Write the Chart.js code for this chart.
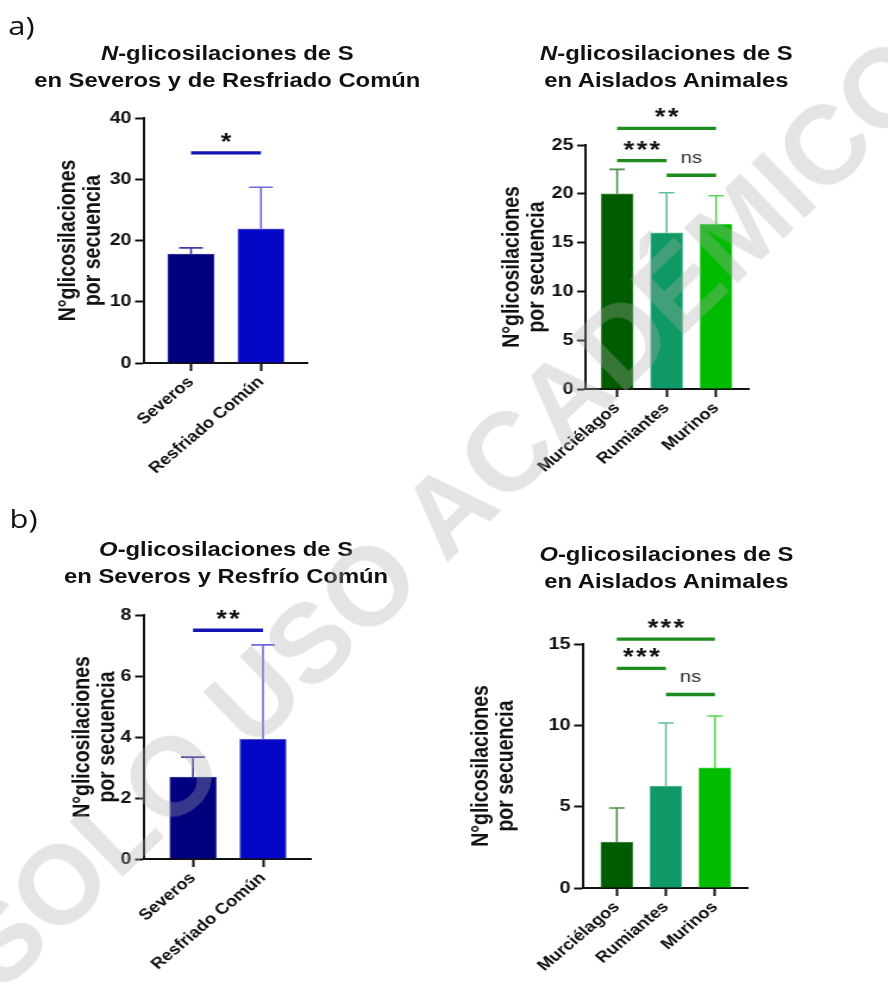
<!DOCTYPE html>
<html>
<head>
<meta charset="utf-8">
<script src="https://cdn.jsdelivr.net/npm/chart.js@4.4.1/dist/chart.umd.min.js"></script>
<style>
  html, body { margin: 0; padding: 0; background: #fff; }
  #page { position: relative; width: 888px; height: 993px; overflow: hidden; }
  /* the figure is slightly stretched sideways in the original */
  #fig { position: absolute; left: 0; top: 0; width: 746px; height: 993px; transform: scaleX(1.19); transform-origin: 0 0; }
  .tag { position: absolute; font-family: "Open Sans", sans-serif; font-size: 26px; line-height: 30px; color: #111; }
  .ttl { position: absolute; width: 400px; text-align: center; font-family: "Liberation Sans", Arial, sans-serif;
         font-weight: bold; font-size: 20px; line-height: 27px; color: #111; }
  canvas { position: absolute; }
  #wm { position: absolute; left: 445px; top: 512px; transform: translate(-50%, -50%) rotate(-44deg);
        white-space: nowrap; font-family: "Liberation Sans", Arial, sans-serif; font-weight: bold;
        font-size: 112px; color: rgba(170, 170, 170, 0.32); pointer-events: none; }
</style>
</head>
<body>
<div id="page">
  <div id="fig">
    <div class="tag" style="left:7px; top:10px;">a)</div>
    <div class="tag" style="left:8px; top:503px;">b)</div>

    <div class="ttl" style="left:-9px; top:40px;"><i>N</i>-glicosilaciones de S<br>en Severos y de Resfriado Común</div>
    <div class="ttl" style="left:360px; top:40px;"><i>N</i>-glicosilaciones de S<br>en Aislados Animales</div>
    <div class="ttl" style="left:-10px; top:536px;"><i>O</i>-glicosilaciones de S<br>en Severos y Resfrío Común</div>
    <div class="ttl" style="left:360px; top:541px;"><i>O</i>-glicosilaciones de S<br>en Aislados Animales</div>

    <canvas id="cA" width="240" height="395" style="left:40px; top:100px;"></canvas>
    <canvas id="cB" width="240" height="395" style="left:410px; top:100px;"></canvas>
    <canvas id="cC" width="240" height="400" style="left:40px; top:590px;"></canvas>
    <canvas id="cD" width="270" height="400" style="left:380px; top:590px;"></canvas>
  </div>
  <div id="wm">SOLO USO ACADÉMICO</div>
</div>

<script>
// ─── DATA ───
const gruposHum = ['Severos', 'Resfriado Común'];
const gruposAni = ['Murciélagos', 'Rumiantes', 'Murinos'];

// a) N-glicosilaciones
const nHumMedia = [17.8, 21.9];
const nHumDE = [1.0, 6.8];
const nAniMedia = [20.0, 16.0, 16.9];
const nAniDE = [2.5, 4.1, 2.9];

// b) O-glicosilaciones
const oHumMedia = [2.69, 3.93];
const oHumDE = [0.65, 3.09];
const oAniMedia = [2.83, 6.27, 7.38];
const oAniDE = [2.09, 3.87, 3.19];

// comparaciones (índices de grupo, altura en unidades del eje, texto)
const nHumSigDe = [0], nHumSigA = [1], nHumSigY = [34.3], nHumSigTxt = ['*'];
const nAniSigDe = [0, 0, 1], nAniSigA = [2, 1, 2], nAniSigY = [26.7, 23.4, 21.9], nAniSigTxt = ['**', '***', 'ns'];
const oHumSigDe = [0], oHumSigA = [1], oHumSigY = [7.5], oHumSigTxt = ['**'];
const oAniSigDe = [0, 0, 1], oAniSigA = [2, 1, 2], oAniSigY = [15.3, 13.5, 11.9], oAniSigTxt = ['***', '***', 'ns'];

const yTitulo = ['N°glicosilaciones', 'por secuencia'];

// ─── STYLE ───
const azules = ['#00007e', '#0606c6'];
const azulesErr = ['#3c3ca0', '#6b6bd8'];
const verdes = ['#005c00', '#0e9966', '#00bb00'];
const verdesErr = ['#4d8f4d', '#5fbf98', '#55d655'];
const FONT = '"Liberation Sans", Arial, Helvetica, sans-serif';

Chart.defaults.font.family = FONT;
Chart.defaults.color = '#111';
Chart.defaults.animation = false;

function panel(cfg) {
    // error bars (upper only) and significance brackets
    const extras = {
        id: 'extras',
        afterDatasetsDraw(chart) {
            const ctx = chart.ctx;
            const xs = chart.scales.x, ys = chart.scales.y;
            ctx.save();
            ctx.lineWidth = 1.6;
            cfg.means.forEach((m, i) => {
                const px = xs.getPixelForValue(i);
                const top = ys.getPixelForValue(m + cfg.sds[i]);
                ctx.strokeStyle = cfg.errColors[i];
                ctx.beginPath();
                ctx.moveTo(px, ys.getPixelForValue(m));
                ctx.lineTo(px, top);
                ctx.moveTo(px - cfg.cap, top);
                ctx.lineTo(px + cfg.cap, top);
                ctx.stroke();
            });

            ctx.textAlign = 'center';
            ctx.textBaseline = 'alphabetic';
            cfg.sigY.forEach((v, k) => {
                const x1 = xs.getPixelForValue(cfg.sigFrom[k]);
                const x2 = xs.getPixelForValue(cfg.sigTo[k]);
                const py = ys.getPixelForValue(v);
                ctx.strokeStyle = cfg.sigColor;
                ctx.lineWidth = 3.4;
                ctx.beginPath();
                ctx.moveTo(x1, py);
                ctx.lineTo(x2, py);
                ctx.stroke();
                const t = cfg.sigText[k];
                if (t === 'ns') {
                    ctx.font = '17px ' + FONT;
                    ctx.fillStyle = '#333';
                    ctx.letterSpacing = '0px';
                    ctx.fillText(t, (x1 + x2) / 2, py - 12);
                } else {
                    ctx.font = 'bold 23px ' + FONT;
                    ctx.fillStyle = '#111';
                    ctx.letterSpacing = '2px';
                    ctx.fillText(t, (x1 + x2) / 2 + 1, py - 3);
                }
            });
            ctx.restore();
        }
    };

    return new Chart(document.getElementById(cfg.id), {
        type: 'bar',
        data: {
            datasets: [{
                data: cfg.means.map((m, i) => ({ x: i, y: m })),
                backgroundColor: cfg.colors,
                borderColor: cfg.errColors,
                borderWidth: 1,
                borderSkipped: 'bottom',
                barThickness: cfg.barW
            }]
        },
        options: {
            responsive: false,
            devicePixelRatio: 1,
            layout: { padding: { top: cfg.padTop, right: cfg.padRight, left: 0, bottom: 0 } },
            plugins: { legend: { display: false }, tooltip: { enabled: false } },
            scales: {
                x: {
                    type: 'linear',
                    offset: false,
                    bounds: 'data',
                    min: cfg.xMin,
                    max: cfg.xMax,
                    afterBuildTicks: s => { s.ticks = cfg.cats.map((c, i) => ({ value: i })); },
                    afterFit: s => { s.height = cfg.xH; },
                    grid: { display: true, drawOnChartArea: false, offset: false, tickLength: 8, tickWidth: 2, tickColor: '#111' },
                    border: { display: true, color: '#111', width: 2 },
                    ticks: {
                        autoSkip: false,
                        minRotation: 45,
                        maxRotation: 45,
                        padding: 2,
                        color: '#111',
                        font: { size: 15.5, weight: 'bold' },
                        callback: v => cfg.cats[v]
                    }
                },
                y: {
                    min: 0,
                    max: cfg.yMax,
                    afterFit: s => { s.width = cfg.yW; },
                    grid: { display: true, drawOnChartArea: false, tickLength: 7.5, tickWidth: 2, tickColor: '#111' },
                    border: { display: true, color: '#111', width: 2 },
                    ticks: { stepSize: cfg.yStep, padding: 3, color: '#111', font: { size: 16.5, weight: 'bold' } },
                    title: {
                        display: true,
                        text: yTitulo,
                        color: '#111',
                        padding: { top: cfg.titlePad, bottom: 0 },
                        font: { size: 19.5, weight: 'bold', lineHeight: 1.1 }
                    }
                }
            }
        },
        plugins: [extras]
    });
}

panel({
    id: 'cA', cats: gruposHum, means: nHumMedia, sds: nHumDE,
    colors: azules, errColors: azulesErr, sigColor: '#1515b5',
    sigFrom: nHumSigDe, sigTo: nHumSigA, sigY: nHumSigY, sigText: nHumSigTxt,
    yMax: 40, yStep: 10, xMin: -0.672, xMax: 1.672, barW: 39, cap: 10,
    padTop: 18, padRight: 21.2, xH: 132, yW: 81, titlePad: 6.6
});

panel({
    id: 'cB', cats: gruposAni, means: nAniMedia, sds: nAniDE,
    colors: verdes, errColors: verdesErr, sigColor: '#1e8c1e',
    sigFrom: nAniSigDe, sigTo: nAniSigA, sigY: nAniSigY, sigText: nAniSigTxt,
    yMax: 25, yStep: 5, xMin: -0.63, xMax: 2.666, barW: 27, cap: 6.5,
    padTop: 45, padRight: 20.6, xH: 106, yW: 82.4, titlePad: 9.8
});

panel({
    id: 'cC', cats: gruposHum, means: oHumMedia, sds: oHumDE,
    colors: azules, errColors: azulesErr, sigColor: '#1515b5',
    sigFrom: oHumSigDe, sigTo: oHumSigA, sigY: oHumSigY, sigText: oHumSigTxt,
    yMax: 8, yStep: 2, xMin: -0.70, xMax: 1.685, barW: 39, cap: 10,
    padTop: 25, padRight: 18.7, xH: 131, yW: 81, titlePad: 18.4
});

panel({
    id: 'cD', cats: gruposAni, means: oAniMedia, sds: oAniDE,
    colors: verdes, errColors: verdesErr, sigColor: '#1e8c1e',
    sigFrom: oAniSigDe, sigTo: oAniSigA, sigY: oAniSigY, sigText: oAniSigTxt,
    yMax: 15, yStep: 5, xMin: -0.69, xMax: 2.675, barW: 27, cap: 6.5,
    padTop: 54, padRight: 21.4, xH: 102, yW: 109.9, titlePad: 13.7
});
</script>
</body>
</html>
